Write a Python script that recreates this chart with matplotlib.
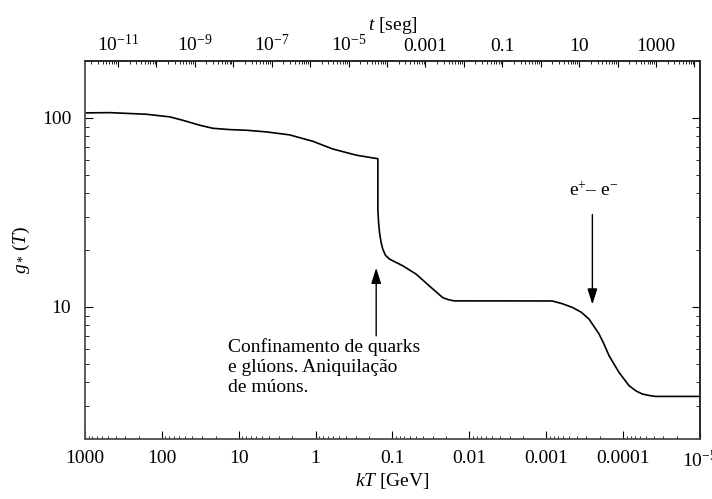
import math

import numpy as np
import matplotlib

matplotlib.use("Agg")
from matplotlib import pyplot as plt
from matplotlib.ticker import FuncFormatter, LogLocator, NullFormatter

plt.rcParams["font.family"] = "Liberation Serif"
plt.rcParams["mathtext.fontset"] = "custom"
plt.rcParams["mathtext.rm"] = "Liberation Serif"
plt.rcParams["mathtext.it"] = "Liberation Serif:italic"
plt.rcParams["font.size"] = 14

# effective relativistic degrees of freedom vs temperature
kT_gev = [1000, 473, 158, 78.7, 53.3, 32.1, 21.8, 13.1, 7.94, 4.37, 2.18,
          1.09, 0.601, 0.296, 0.155, 0.155, 0.152, 0.1476, 0.141, 0.1337,
          0.1233, 0.1094, 0.0735, 0.0492, 0.0331, 0.0222, 0.01875, 0.0157,
          8.36e-4, 6.19e-4, 4.55e-4, 3.51e-4, 2.77e-4, 2.05e-4, 1.77e-4,
          1.52e-4, 1.13e-4, 8.36e-5, 6.78e-5, 5.62e-5, 4.59e-5, 3.76e-5,
          1e-5]
g_star = [106.3, 106.6, 104.5, 101.2, 97.1, 91.4, 88.1, 86.7, 86.0, 84.3,
          81.3, 75.2, 68.5, 63.5, 60.8, 32.8, 28.3, 24.8, 22.0, 20.2, 18.75,
          17.9, 16.5, 14.9, 12.9, 11.2, 10.92, 10.76, 10.75, 10.4, 9.93,
          9.38, 8.61, 7.18, 6.35, 5.51, 4.50, 3.83, 3.59, 3.46, 3.40, 3.36,
          3.36]

kT_ticks = [1000, 100, 10, 1, 0.1, 0.01, 0.001, 0.0001, 1e-5]
kT_labels = ["1000", "100", "10", "1", "0.1", "0.01", "0.001", "0.0001",
             r"$10^{-5}$"]
g_ticks = [10, 100]
g_labels = ["10", "100"]

# time axis: t = t_coef / (kT)^2
t_coef = 1.39e-6
t_label_exps = [-11, -9, -7, -5, -3, -1, 1, 3]
t_labels = [r"$10^{-11}$", r"$10^{-9}$", r"$10^{-7}$", r"$10^{-5}$",
            "0.001", "0.1", "10", "1000"]

kT_lim = (1000, 1e-5)
g_lim = (2, 200)

fig = plt.figure(figsize=(7.12, 4.99), dpi=100)
ax = fig.add_axes([0.1194, 0.1202, 0.8637, 0.7576])

ax.plot(kT_gev, g_star, color="black", lw=1.2)

ax.set_xscale("log")
ax.set_yscale("log")
ax.set_xlim(*kT_lim)
ax.set_ylim(*g_lim)

ax.set_xticks(kT_ticks, kT_labels)
ax.xaxis.set_minor_locator(LogLocator(base=10, subs=np.arange(2, 10), numticks=100))
ax.xaxis.set_minor_formatter(NullFormatter())
ax.set_yticks(g_ticks, g_labels)
ax.yaxis.set_minor_formatter(NullFormatter())
ax.yaxis.set_ticks_position("both")
ax.tick_params(axis="x", which="major", direction="in", length=5.5, pad=8)
ax.tick_params(axis="x", which="minor", direction="in", length=2.5)
ax.tick_params(axis="y", which="major", direction="in", length=5.5, pad=10)
ax.tick_params(axis="y", which="minor", direction="in", length=3)
ax.set_xlabel(r"$kT$ [GeV]", labelpad=0)
ax.set_ylabel(r"$g_*\,(T)$", labelpad=7)

ax2 = ax.twiny()
ax2.set_xscale("log")
ax2.set_xlim(t_coef / kT_lim[0] ** 2, t_coef / kT_lim[1] ** 2)
t_lookup = dict(zip(t_label_exps, t_labels))
ax2.xaxis.set_major_locator(LogLocator(base=10, numticks=40))
ax2.xaxis.set_major_formatter(
    FuncFormatter(lambda v, p: t_lookup.get(int(round(math.log10(v))), "")))
ax2.xaxis.set_minor_locator(LogLocator(base=10, subs=np.arange(2, 10), numticks=100))
ax2.xaxis.set_minor_formatter(NullFormatter())
ax2.tick_params(axis="x", which="major", direction="in", length=4, pad=4)
ax2.tick_params(axis="x", which="minor", direction="in", length=2.2)
ax2.set_xlabel(r"$t$ [seg]", labelpad=3)

for a in (ax, ax2):
    for side in ("left", "bottom"):
        a.spines[side].set_color("#555555")
    for side in ("top", "right"):
        a.spines[side].set_color("#222222")
    for s in a.spines.values():
        s.set_linewidth(1.1)

arrow_kw = dict(arrowstyle="-|>,head_length=0.95,head_width=0.3",
                mutation_scale=10, color="black", lw=1, shrinkA=0, shrinkB=0)
ax.annotate("", xy=(0.163, 16.1), xytext=(0.163, 7.03), arrowprops=arrow_kw)
ax.annotate("", xy=(2.51e-4, 10.3), xytext=(2.51e-4, 30.8), arrowprops=arrow_kw)

ax.text(13.9, 6.8, "Confinamento de quarks\ne glúons. Aniquilação\nde múons.",
        ha="left", va="top", linespacing=1.22)
ax.text(2.38e-4, 38.4, r"e$^{+}$– e$^{-}$", ha="center", va="baseline")

fig.savefig("out.png", dpi=100)
